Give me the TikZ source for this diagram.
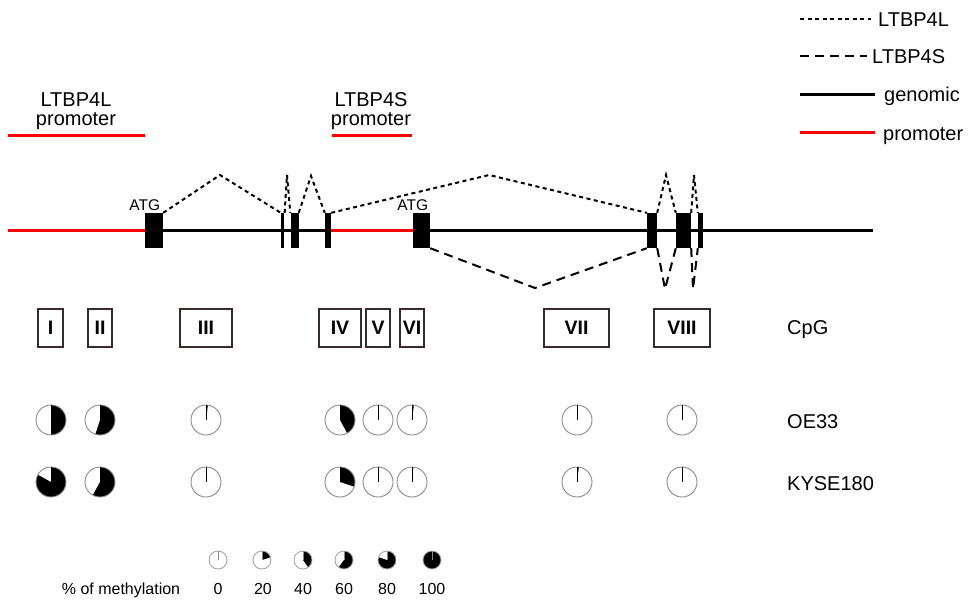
\documentclass[tikz,border=0pt]{standalone}
\usepackage{fontspec}
\setmainfont{Liberation Sans}
\usetikzlibrary{backgrounds}

\definecolor{boxedge}{HTML}{3B2A2C}
\definecolor{pieline}{HTML}{8A8A8A}

% methylation pie: centre x, centre y, radius, methylated fraction (0..1)
\newcommand{\methpie}[4]{%
  \begin{scope}[shift={(#1,#2)}]
    \fill[white] (0,0) circle (#3);
    \pgfmathsetmacro{\pieend}{-90+360*#4}%
    \ifdim #4pt>0pt
      \fill[black] (0,0) -- (-90:#3) arc[start angle=-90, end angle=\pieend, radius=#3] -- cycle;
    \fi
    \draw[pieedge] (0,0) circle (#3);
    \draw[pietick] (0,0) -- (-90:#3);
  \end{scope}}

\tikzset{
  lbl/.style={inner sep=0pt, font=\fontsize{20}{24}\selectfont},
  atg/.style={inner sep=0pt, font=\fontsize{15.5}{18}\selectfont},
  small/.style={inner sep=0pt, font=\fontsize{16}{19}\selectfont},
  exon/.style={fill=black, inner sep=0pt, minimum height=35pt},
  cpg/.style={draw=boxedge, line width=1.3pt, inner sep=0pt, minimum height=38pt,
              font=\fontsize{19.5}{19.5}\selectfont\bfseries},
  genomic/.style={black, line width=3pt},
  promo/.style={red, line width=3pt},
  dotline/.style={line width=2pt, dash pattern=on 4pt off 3.5pt},
  dashline/.style={line width=2pt, dash pattern=on 9pt off 6pt},
  pieedge/.style={pieline, line width=0.9pt},
  pietick/.style={black, line width=0.9pt},
}

\begin{document}
\begin{tikzpicture}[x=1pt, y=-1pt]
\useasboundingbox (0,0) rectangle (970,603);

% ---- legend (top right)
\node[lbl, anchor=base west] (kL) at (878,26)  {LTBP4L};
\node[lbl, anchor=base west] (kS) at (872,63)  {LTBP4S};
\node[lbl, anchor=base west] (kG) at (884,101) {genomic};
\node[lbl, anchor=base west] (kP) at (883,140) {promoter};
\coordinate (kLa) at (800,19);  \coordinate (kLb) at (871,19);
\coordinate (kSa) at (800,56);  \coordinate (kSb) at (867,56);
\coordinate (kGa) at (800,94);  \coordinate (kGb) at (875,94);
\coordinate (kPa) at (800,132); \coordinate (kPb) at (875,132);
\draw[dotline]  (kLa) -- (kLb);
\draw[dashline] (kSa) -- (kSb);
\draw[genomic]  (kGa) -- (kGb);
\draw[promo]    (kPa) -- (kPb);

% ---- promoter labels
\node[lbl, anchor=base] (pLa) at (76,106) {LTBP4L};
\node[lbl, anchor=base] (pLb) at (76,125.5) {promoter};
\node[lbl, anchor=base] (pSa) at (371,106) {LTBP4S};
\node[lbl, anchor=base] (pSb) at (371,125.5) {promoter};
\coordinate (pL1) at (8,135);   \coordinate (pL2) at (145,135);
\coordinate (pS1) at (332,135); \coordinate (pS2) at (412,135);
\draw[promo] (pL1) -- (pL2);
\draw[promo] (pS1) -- (pS2);

% ---- exons
\node[exon, minimum width=18pt]  (e1) at (154,230.5)   {};
\node[exon, minimum width=3.5pt] (e2) at (282.7,230.5) {};
\node[exon, minimum width=8pt]   (e3) at (294.5,230.5) {};
\node[exon, minimum width=6pt]   (e4) at (328,230.5)   {};
\node[exon, minimum width=17pt]  (e5) at (421.5,230.5) {};
\node[exon, minimum width=10pt]  (e6) at (652,230.5)   {};
\node[exon, minimum width=15pt]  (e7) at (683.5,230.5) {};
\node[exon, minimum width=5pt]   (e8) at (700.5,230.5) {};

\coordinate (g0) at (8,230.5);
\coordinate (g9) at (873,230.5);
\begin{pgfonlayer}{background}
  \draw[genomic] (e1.west) -- (g9);
  \draw[promo] (g0) -- (e1.west);
  \draw[promo] (e4.east) -- (e5.west);
\end{pgfonlayer}

\node[atg, anchor=base] (atg1) at ([yshift=2pt]e1.north west) {ATG};
\node[atg, anchor=base] (atg2) at ([yshift=2pt]e5.north west) {ATG};

% ---- LTBP4L splicing (dotted, above)
\coordinate (p1) at (220,175);
\coordinate (p2) at (287,175);
\coordinate (p3) at (311,176);
\coordinate (p4) at (489,175);
\coordinate (p5) at (666,175);
\coordinate (p6) at (694,175);
\draw[dotline] (e1.north east) -- (p1) -- (e2.north west);
\draw[dotline] (e2.north east) -- (p2) -- (e3.north west);
\draw[dotline] (e3.north east) -- (p3) -- (e4.north west);
\draw[dotline] (e4.north east) -- (p4) -- (e6.north west);
\draw[dotline] (e6.north east) -- (p5) -- (e7.north west);
\draw[dotline] (e7.north east) -- (p6) -- (e8.north west);

% ---- LTBP4S splicing (dashed, below)
\coordinate (q1) at (535,288);
\coordinate (q2) at (665,289);
\coordinate (q3) at (693,289);
\draw[dashline] (e5.south east) -- (q1) -- (e6.south west);
\draw[dashline] (e6.south east) -- (q2) -- (e7.south west);
\draw[dashline] (e7.south east) -- (q3) -- (e8.south west);

% ---- CpG islands
\node[cpg, minimum width=25pt] (c1) at (50.5,328)  {I};
\node[cpg, minimum width=24pt] (c2) at (100,328)   {II};
\node[cpg, minimum width=52pt] (c3) at (206,328)   {III};
\node[cpg, minimum width=42pt] (c4) at (340,328)   {IV};
\node[cpg, minimum width=24pt] (c5) at (378,328)   {V};
\node[cpg, minimum width=24pt] (c6) at (412,328)   {VI};
\node[cpg, minimum width=65pt] (c7) at (576.5,328) {VII};
\node[cpg, minimum width=56pt] (c8) at (682,328)   {VIII};

\node[lbl, anchor=base west] (rowC) at (787,334) {CpG};
\node[lbl, anchor=base west] (rowO) at (787,428) {OE33};
\node[lbl, anchor=base west] (rowK) at (787,490) {KYSE180};

% ---- methylation, OE33
\methpie{51}{420}{15}{0.50}
\methpie{100}{420}{15}{0.55}
\methpie{206}{420}{15}{0.02}
\methpie{340}{420}{15}{0.42}
\methpie{378}{420}{15}{0.01}
\methpie{412}{420}{15}{0.02}
\methpie{577}{420}{15}{0.005}
\methpie{682}{420}{15}{0}

% ---- methylation, KYSE180
\methpie{51}{482}{15}{0.83}
\methpie{100}{482}{15}{0.58}
\methpie{206}{482}{15}{0}
\methpie{340}{482}{15}{0.30}
\methpie{378}{482}{15}{0.01}
\methpie{412}{482}{15}{0.015}
\methpie{577}{482}{15}{0.02}
\methpie{682}{482}{15}{0}

% ---- scale
\node[small, anchor=base] (mlab) at (121,594) {\% of methylation};
\begin{scope}[pieedge/.style={pieline!80, line width=0.8pt}, pietick/.style={pieline, line width=0.8pt}]
\methpie{218}{560}{9}{0}
\methpie{262}{560}{9}{0.2}
\methpie{303}{560}{9}{0.4}
\methpie{344}{560}{9}{0.6}
\methpie{387}{560}{9}{0.8}
\methpie{432}{560}{9}{1}
\end{scope}
\node[small, anchor=base] (m0)   at (218,594) {0};
\node[small, anchor=base] (m20)  at (263,594) {20};
\node[small, anchor=base] (m40)  at (303,594) {40};
\node[small, anchor=base] (m60)  at (344,594) {60};
\node[small, anchor=base] (m80)  at (387,594) {80};
\node[small, anchor=base] (m100) at (432,594) {100};
\end{tikzpicture}
\end{document}
